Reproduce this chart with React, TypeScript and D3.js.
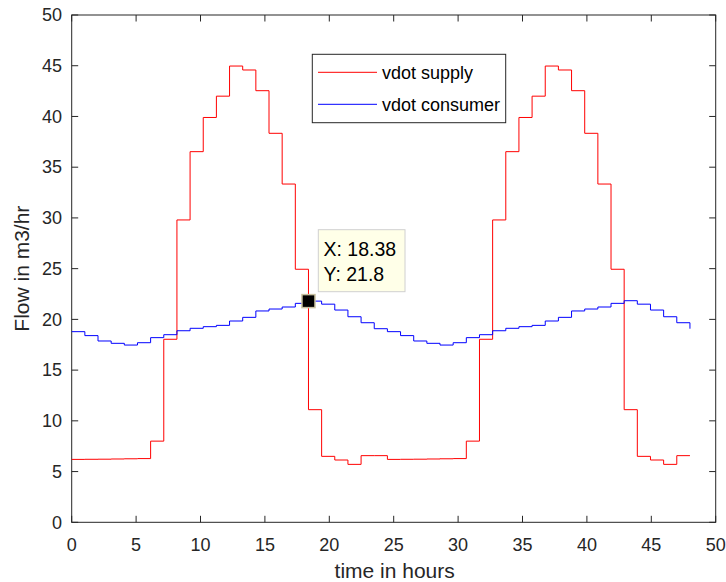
import React from "react";
import * as d3 from "d3";

const supply: number[] = [
  6.2, 6.21, 6.22, 6.24, 6.26, 6.28, 8.0, 18.04, 29.8, 36.53, 39.9, 42.0,
  44.97, 44.58, 42.54, 38.34, 33.34, 24.94, 11.1, 6.5, 6.14, 5.71, 6.57, 6.57,
  6.2, 6.21, 6.22, 6.24, 6.26, 6.28, 8.0, 18.04, 29.8, 36.53, 39.9, 42.0,
  44.97, 44.58, 42.54, 38.34, 33.34, 24.94, 11.1, 6.5, 6.14, 5.71, 6.57, 6.57,
];

const consumer: number[] = [
  18.79, 18.4, 17.87, 17.64, 17.47, 17.7, 18.2, 18.49, 18.88, 19.12, 19.28, 19.41,
  19.84, 20.2, 20.83, 21.02, 21.22, 21.58, 21.8, 21.5, 20.92, 20.26, 19.67, 19.08,
  18.79, 18.4, 17.87, 17.64, 17.47, 17.7, 18.2, 18.49, 18.88, 19.12, 19.28, 19.41,
  19.84, 20.2, 20.83, 21.02, 21.22, 21.58, 21.84, 21.5, 20.92, 20.26, 19.67, 19.08,
];

const times: number[] = supply.map((_, i) => (i * 48) / 47);

const xTicks: number[] = [0, 5, 10, 15, 20, 25, 30, 35, 40, 45, 50];
const yTicks: number[] = [0, 5, 10, 15, 20, 25, 30, 35, 40, 45, 50];

const seriesNames = ["vdot supply", "vdot consumer"];
const tipIndex = 18;
const tipLabels = ["X: 18.38", "Y: 21.8"];
const xLabel = "time in hours";
const yLabel = "Flow in m3/hr";

export default function App() {
  const W = 726;
  const H = 582;
  const left = 71.7;
  const right = 715.7;
  const top = 15;
  const bottom = 522.3;
  const x = d3.scaleLinear().domain([0, 50]).range([left, right]);
  const y = d3.scaleLinear().domain([0, 50]).range([bottom, top]);
  const font = "'Liberation Sans', Arial, sans-serif";
  const axisColor = "#262626";
  const tick = 6.5;

  const line = d3
    .line<number>()
    .x((_, i) => x(times[i]))
    .y((d) => y(d))
    .curve(d3.curveStepAfter);

  const tx = x(times[tipIndex]);
  const ty = y(consumer[tipIndex]);

  return (
    <svg
      width={W}
      height={H}
      style={{ position: "absolute", left: 0, top: 0, background: "#fff" }}
      fontFamily={font}
    >
      <rect x={0} y={0} width={W} height={H} fill="#fff" />
      {xTicks.map((t) => (
        <g key={"xt" + t}>
          <line x1={x(t)} x2={x(t)} y1={bottom} y2={bottom - tick} stroke={axisColor} strokeWidth={1} />
          <line x1={x(t)} x2={x(t)} y1={top} y2={top + tick} stroke={axisColor} strokeWidth={1} />
          <text x={x(t)} y={551} textAnchor="middle" fontSize={18} fill={axisColor}>
            {t}
          </text>
        </g>
      ))}
      {yTicks.map((t) => (
        <g key={"yt" + t}>
          <line x1={left} x2={left + tick} y1={y(t)} y2={y(t)} stroke={axisColor} strokeWidth={1} />
          <line x1={right} x2={right - tick} y1={y(t)} y2={y(t)} stroke={axisColor} strokeWidth={1} />
          <text x={62} y={y(t)} dy="0.35em" textAnchor="end" fontSize={18} fill={axisColor}>
            {t}
          </text>
        </g>
      ))}
      <rect
        x={left}
        y={top}
        width={right - left}
        height={bottom - top}
        fill="none"
        stroke={axisColor}
        strokeWidth={1}
      />
      <path d={line(supply) || ""} fill="none" stroke="#ff0000" strokeWidth={1} />
      <path d={line(consumer) || ""} fill="none" stroke="#0000ff" strokeWidth={1} />

      <rect x={tx - 6.5} y={ty - 6.5} width={13} height={13} fill="#000" stroke="#c8c0a0" strokeWidth={1.5} />
      <rect x={318.3} y={229.7} width={86.7} height={62} fill="#ffffe8" stroke="#d0d0d0" strokeWidth={1} />
      <text x={323.5} y={256} fontSize={19.5} fill="#000">
        {tipLabels[0]}
      </text>
      <text x={323.5} y={281} fontSize={19.5} fill="#000">
        {tipLabels[1]}
      </text>

      <rect x={312.3} y={54.3} width={193.4} height={68.4} fill="#fff" stroke={axisColor} strokeWidth={1} />
      <line x1={318} x2={377} y1={72.3} y2={72.3} stroke="#ff0000" strokeWidth={1} />
      <line x1={318} x2={377} y1={104.3} y2={104.3} stroke="#0000ff" strokeWidth={1} />
      <text x={382} y={72.3} dy="0.35em" fontSize={18} fill="#000">
        {seriesNames[0]}
      </text>
      <text x={382} y={104.3} dy="0.35em" fontSize={18} fill="#000">
        {seriesNames[1]}
      </text>

      <text x={(left + right) / 2 + 1} y={578} textAnchor="middle" fontSize={21} fill={axisColor}>
        {xLabel}
      </text>
      <text
        transform={`translate(29, ${(top + bottom) / 2}) rotate(-90)`}
        textAnchor="middle"
        fontSize={21}
        fill={axisColor}
      >
        {yLabel}
      </text>
    </svg>
  );
}
